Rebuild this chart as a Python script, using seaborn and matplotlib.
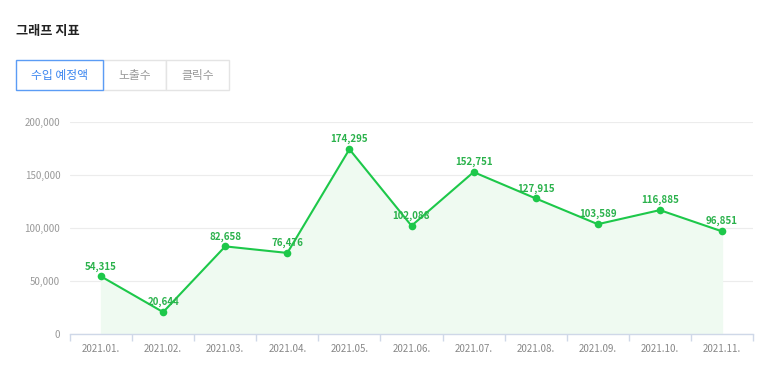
import seaborn as sns
import matplotlib.pyplot as plt
import pandas as pd
from matplotlib.patches import Rectangle
from matplotlib.ticker import FuncFormatter, MultipleLocator

# Data
months = ['2021.01.', '2021.02.', '2021.03.', '2021.04.', '2021.05.', '2021.06.',
          '2021.07.', '2021.08.', '2021.09.', '2021.10.', '2021.11.']
revenue = [54315, 20644, 82658, 76476, 174295, 102088,
           152751, 127915, 103589, 116885, 96851]
tabs = ['수입 예정액', '노출수', '클릭수']

sns.set_theme(style='white')
plt.rcParams['font.family'] = ['Noto Sans CJK KR', 'DejaVu Sans']

W, H = 773, 387
fig = plt.figure(figsize=(W / 100, H / 100), dpi=100)


def fx(px):
    return px / W


def fy(py):
    return 1 - py / H


ax = fig.add_axes([fx(70), fy(334), fx(753) - fx(70), fy(122) - fy(334)])

df = pd.DataFrame({'month': months, 'value': revenue})
df['pos'] = range(len(df))

green = '#1dc84a'
ax.fill_between(df['pos'], df['value'], color='#effaf1', zorder=1)
sns.lineplot(data=df, x='pos', y='value', ax=ax, color=green, linewidth=1.5,
             marker='o', markersize=5.5, markeredgewidth=0, zorder=3)

for x, v in zip(df['pos'], df['value']):
    ax.annotate(f'{v:,}', (x, v), xytext=(0, 3.5), textcoords='offset points',
                ha='center', va='bottom', fontsize=7, color='#2bb24c',
                fontweight='bold', zorder=4)

ax.set_xlim(-0.5, len(months) - 0.5)
ax.set_ylim(0, 200000)
ax.yaxis.set_major_locator(MultipleLocator(50000))
ax.yaxis.set_major_formatter(FuncFormatter(lambda v, p: f'{int(v):,}'))
ax.set_xticks(df['pos'])
ax.set_xticklabels(months)
ax.set_xticks([i - 0.5 for i in range(len(months) + 1)], minor=True)
ax.tick_params(axis='x', which='major', bottom=True, length=0, pad=7,
               labelsize=7, labelcolor='#888888')
ax.tick_params(axis='x', which='minor', bottom=True, length=5, width=1,
               color='#cfd8e8', direction='out')
ax.tick_params(axis='y', length=0, pad=7, labelsize=7, labelcolor='#999999')
ax.grid(axis='y', color='#ececec', linewidth=0.8, zorder=0)
ax.set_axisbelow(True)
for s in ['top', 'right', 'left']:
    ax.spines[s].set_visible(False)
ax.spines['bottom'].set_color('#cfd8e8')
ax.spines['bottom'].set_linewidth(1)
ax.set_xlabel('')
ax.set_ylabel('')

# Title and tabs above the chart
fig.text(fx(16), fy(31), '그래프 지표', fontsize=9.5, fontweight='bold',
         color='#222222', va='center', ha='left')

tab_edges = [16, 103, 166, 229]
for i, name in enumerate(tabs):
    x0, x1 = tab_edges[i], tab_edges[i + 1]
    active = i == 0
    fig.patches.append(Rectangle((fx(x0), fy(90)), fx(x1) - fx(x0), fy(60) - fy(90),
                                 transform=fig.transFigure, facecolor='white',
                                 edgecolor='#5b9cf5' if active else '#e4e4e4',
                                 linewidth=1, zorder=2 if active else 1))
    fig.text(fx((x0 + x1) / 2), fy(75), name, fontsize=8.5,
             color='#3b86f0' if active else '#999999', ha='center', va='center')

fig.savefig('out.png', dpi=100)
